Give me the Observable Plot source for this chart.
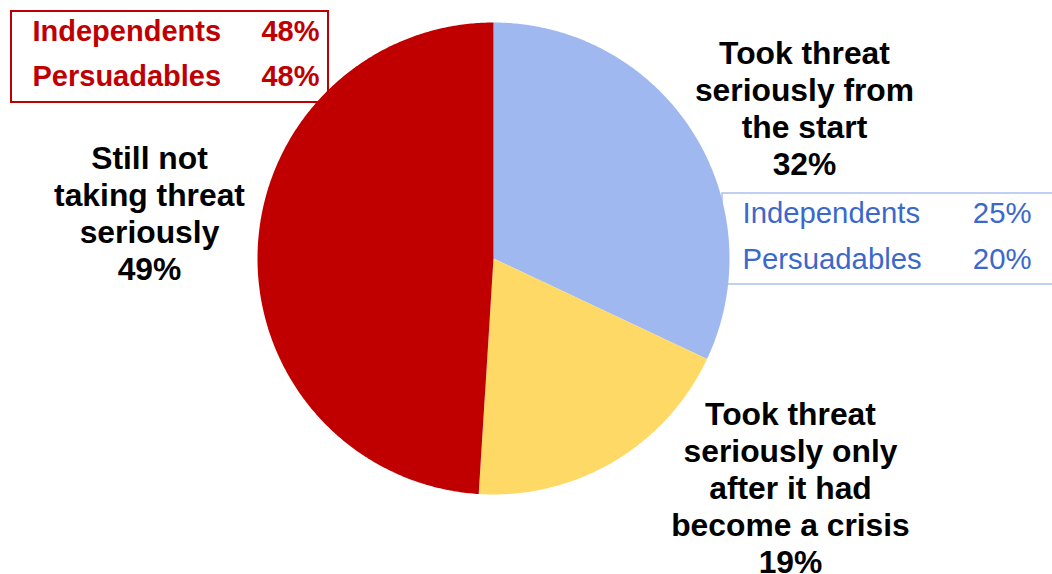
<!DOCTYPE html>
<html>
<head>
<meta charset="utf-8">
<script src="https://cdn.jsdelivr.net/npm/d3@7"></script>
<script src="https://cdn.jsdelivr.net/npm/@observablehq/plot@0.6"></script>
<style>
  html, body { margin: 0; padding: 0; background: #fff; }
  #chart svg { display: block; font-family: "Liberation Sans", Arial, sans-serif; }
</style>
</head>
<body>
<div id="chart"></div>
<script>
// ---- data ----
const categories = [
  "Took threat\nseriously from\nthe start",
  "Took threat\nseriously only\nafter it had\nbecome a crisis",
  "Still not\ntaking threat\nseriously"
];
const values = [32, 19, 49];
const sliceColors = ["#9FB9F0", "#FFD966", "#C00000"];
const groups = ["Independents", "Persuadables"];
const notSeriousShares = [48, 48];   // red box
const fromStartShares = [25, 20];    // blue box

// ---- geometry helpers (pixel -> data units, radius = 1) ----
const W = 1052, H = 574, CX = 493, CY = 258, R = 236;
const px = (x) => (x - CX) / R;
const py = (y) => (CY - y) / R;

const arcs = d3.pie().sort(null).value(d => d)(values);
const sliceData = arcs.map((a, i) => {
  const pts = [{x: 0, y: 0, k: i}];
  const n = Math.max(2, Math.ceil((a.endAngle - a.startAngle) / (Math.PI / 360)));
  for (let j = 0; j <= n; j++) {
    const t = a.startAngle + (a.endAngle - a.startAngle) * j / n;
    pts.push({x: Math.sin(t), y: Math.cos(t), k: i});
  }
  pts.push({x: 0, y: 0, k: i});
  return pts;
});

const labelRows = [
  {text: categories[0] + "\n" + values[0] + "%", x: px(804), y: py(107)},
  {text: categories[1] + "\n" + values[1] + "%", x: px(790), y: py(487)},
  {text: categories[2] + "\n" + values[2] + "%", x: px(149), y: py(212)}
];

const redRows = groups.map((g, i) => ({g, v: notSeriousShares[i] + "%", y: py(31 + 45 * i)}));
const blueRows = groups.map((g, i) => ({g, v: fromStartShares[i] + "%", y: py(213 + 46 * i)}));

const marks = [
  // boxes (behind the pie)
  Plot.rect([0], {x1: px(11), x2: px(328), y1: py(11), y2: py(102), fill: "none", stroke: "#C00000", strokeWidth: 2}),
  Plot.rect([0], {x1: px(722), x2: px(1060), y1: py(193), y2: py(284), fill: "none", stroke: "#A9C0F0", strokeWidth: 1.5, clip: true}),
  // pie slices
  ...sliceData.map((pts, i) => Plot.line(pts, {x: "x", y: "y", fill: sliceColors[i], stroke: "none", curve: "linear"})),
  // slice labels
  Plot.text(labelRows, {x: "x", y: "y", text: "text", fontSize: 31.8, fontWeight: "bold", fill: "#000",
    textAnchor: "middle", lineAnchor: "middle", lineHeight: 1.165}),
  // red box texts
  Plot.text(redRows, {x: px(32), y: "y", text: "g", fontSize: 29, fontWeight: "bold", fill: "#C00000", textAnchor: "start", lineAnchor: "middle"}),
  Plot.text(redRows, {x: px(319), y: "y", text: "v", fontSize: 29, fontWeight: "bold", fill: "#C00000", textAnchor: "end", lineAnchor: "middle"}),
  // blue box texts
  Plot.text(blueRows, {x: px(742), y: "y", text: "g", fontSize: 29.3, fill: "#3A68CC", textAnchor: "start", lineAnchor: "middle"}),
  Plot.text(blueRows, {x: px(1031), y: "y", text: "v", fontSize: 29.3, fill: "#3A68CC", textAnchor: "end", lineAnchor: "middle"})
];

const chart = Plot.plot({
  width: W, height: H,
  margin: 0, marginTop: 0, marginRight: 0, marginBottom: 0, marginLeft: 0,
  x: {domain: [px(0), px(W)], axis: null},
  y: {domain: [py(H), py(0)], axis: null},
  style: {fontFamily: "'Liberation Sans', Arial, sans-serif", background: "#fff"},
  marks
});
document.getElementById("chart").appendChild(chart);
</script>
</body>
</html>
